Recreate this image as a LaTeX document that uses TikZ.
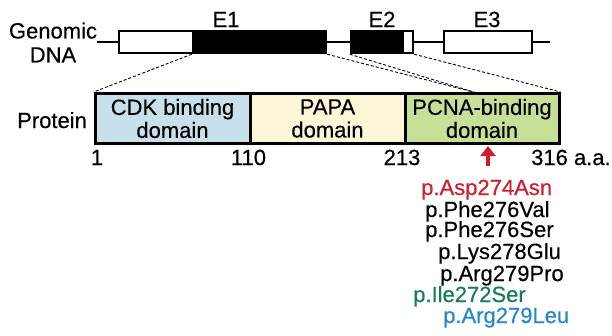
\documentclass[tikz,border=0pt]{standalone}
\usepackage{fontspec}
\setmainfont{Liberation Sans}[FakeBold=0.4]
\usetikzlibrary{arrows.meta}
\definecolor{cdkblue}{RGB}{200,224,234}
\definecolor{papayel}{RGB}{251,246,214}
\definecolor{pcnagrn}{RGB}{198,224,152}
\definecolor{mutred}{RGB}{205,30,45}
\definecolor{mutgrn}{RGB}{20,125,85}
\definecolor{mutblu}{RGB}{35,135,205}
\begin{document}
\begin{tikzpicture}[x=1pt,y=-1pt,
  font=\fontsize{22}{23}\selectfont,
  exwhite/.style={draw=black, line width=2.5pt, fill=white, inner sep=0pt, minimum height=22pt},
  exblack/.style={draw=black, line width=2.5pt, fill=black, inner sep=0pt, minimum height=22pt},
  domainbox/.style={draw=black, line width=3pt, inner sep=0pt, minimum height=50pt, align=center, font=\fontsize{22}{23}\selectfont},
  proj/.style={densely dashed, line width=0.9pt},
  lbl/.style={inner sep=0pt, anchor=base},
  mut/.style={inner sep=0pt, anchor=base west}]
\useasboundingbox (0,0) rectangle (612,335);
% genomic DNA
\coordinate (lineL) at (97,42);
\coordinate (lineR) at (550,42);
\draw[line width=2.5pt] (lineL) -- (lineR);
\node[exwhite, minimum width=74pt] (e1w) at (156,42) {};
\node[exblack, minimum width=133pt] (e1b) at (259.5,42) {};
\node[exblack, minimum width=52pt] (e2b) at (377,42) {};
\node[exwhite, minimum width=10pt] (e2w) at (408,42) {};
\node[exwhite, minimum width=88pt] (e3) at (488,42) {};
\node[lbl] (le1) at (226,27) {E1};
\node[lbl] (le2) at (382,27) {E2};
\node[lbl] (le3) at (487,27) {E3};
\node[inner sep=0pt, align=center, font=\fontsize{22}{24}\selectfont] (gdna) at (53,42.5) {Genomic\\DNA};
% protein
\node[domainbox, fill=cdkblue, minimum width=155pt] (cdk) at (172.5,118.5) {CDK binding\\domain};
\node[domainbox, fill=papayel, minimum width=155pt] (papa) at (327.5,118.5) {PAPA\\domain};
\node[domainbox, fill=pcnagrn, minimum width=154pt] (pcna) at (482,118.5) {PCNA-binding\\domain};
\node[inner sep=0pt, anchor=base west] (prot) at (17,128) {Protein};
\coordinate (meet) at (477,93);
% projections
\draw[proj] (e1b.south west) -- (cdk.north west);
\draw[proj] (e1b.south east) -- (meet);
\draw[proj] (e2b.south west) -- (meet);
\draw[proj] (e2w.south east) -- (pcna.north east);
% numbers
\node[lbl] (n1) at (97,165) {1};
\node[lbl] (n110) at (248.5,165) {110};
\node[lbl] (n213) at (402,165) {213};
\node[mut] (n316) at (531,165) {316 a.a.};
% mutation arrow
\coordinate (arrbot) at (488,166);
\coordinate (arrtip) at (488,146);
\draw[mutred, line width=4pt, -{Triangle[length=10pt,width=15pt]}] (arrbot) -- (arrtip);
\node[mut, text=mutred] (m1) at (421,195) {p.Asp274Asn};
\node[mut] (m2) at (425,217) {p.Phe276Val};
\node[mut] (m3) at (425,237) {p.Phe276Ser};
\node[mut] (m4) at (438,259) {p.Lys278Glu};
\node[mut] (m5) at (440,281) {p.Arg279Pro};
\node[mut, text=mutgrn] (m6) at (413,302) {p.Ile272Ser};
\node[mut, text=mutblu] (m7) at (443,323) {p.Arg279Leu};
\end{tikzpicture}
\end{document}
